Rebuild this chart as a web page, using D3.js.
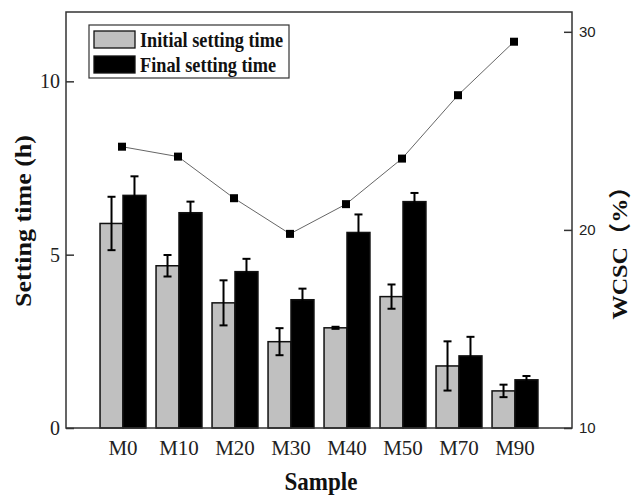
<!DOCTYPE html>
<html>
<head>
<meta charset="utf-8">
<script src="https://cdn.jsdelivr.net/npm/d3@7"></script>
<style>
  body { margin: 0; background: #fff; }
  svg { display: block; }
</style>
</head>
<body>
<div id="chart"></div>
<script>
// data
var samples = ["M0", "M10", "M20", "M30", "M40", "M50", "M70", "M90"];
var initialTime = [5.9, 4.68, 3.61, 2.49, 2.89, 3.79, 1.79, 1.07];
var initialErr = [0.77, 0.31, 0.65, 0.39, 0.03, 0.35, 0.71, 0.18];
var finalTime = [6.71, 6.21, 4.51, 3.70, 5.64, 6.53, 2.08, 1.39];
var finalErr = [0.55, 0.32, 0.37, 0.32, 0.52, 0.25, 0.55, 0.11];
var wcsc = [24.2, 23.7, 21.6, 19.8, 21.3, 23.6, 26.8, 29.5];
var leftTicks = [0, 5, 10];
var rightTicks = [10, 20, 30];
var seriesNames = ["Initial setting time", "Final setting time"];

var serif = "'Times New Roman', 'Liberation Serif', 'Noto Sans CJK SC', serif";
var sans = "Arial, 'Liberation Sans', sans-serif";

var margin = {top: 12, right: 61, bottom: 69, left: 66},
    W = 633, H = 497,
    width = W - margin.left - margin.right,
    height = H - margin.top - margin.bottom;

var svg = d3.select("#chart").append("svg")
    .attr("width", W).attr("height", H);
var g = svg.append("g")
    .attr("transform", "translate(" + margin.left + "," + margin.top + ")");

// scales
var x = d3.scaleBand().domain(samples).range([29, 477])
    .paddingInner(0.18).paddingOuter(0.09);
var xSub = d3.scaleBand().domain([0, 1]).range([0, x.bandwidth()]);
var y = d3.scaleLinear().domain([0, 12]).range([height, 0]);
var y2 = d3.scaleLinear().domain([10, 31]).range([height, 0]);

// bars
var rows = samples.map(function(s, i) {
  return [
    {s: s, k: 0, v: initialTime[i], e: initialErr[i]},
    {s: s, k: 1, v: finalTime[i], e: finalErr[i]}
  ];
});
var fills = ["#c0c0c0", "#000"];

var grp = g.selectAll(".grp").data(rows).enter().append("g")
    .attr("transform", function(d) { return "translate(" + x(d[0].s) + ",0)"; });

grp.selectAll("rect").data(function(d) { return d; }).enter().append("rect")
    .attr("x", function(d) { return xSub(d.k); })
    .attr("y", function(d) { return y(d.v); })
    .attr("width", xSub.bandwidth())
    .attr("height", function(d) { return height - y(d.v); })
    .attr("fill", function(d) { return fills[d.k]; })
    .attr("stroke", "#111").attr("stroke-width", 1.5);

// error bars
var eb = grp.selectAll(".err").data(function(d) { return d; }).enter().append("g")
    .attr("transform", function(d) { return "translate(" + (xSub(d.k) + xSub.bandwidth() / 2) + ",0)"; })
    .attr("stroke", "#000").attr("stroke-width", 2);
eb.append("line")
    .attr("y1", function(d) { return y(d.v - d.e); })
    .attr("y2", function(d) { return y(d.v + d.e); });
eb.append("line").attr("x1", -4).attr("x2", 4)
    .attr("y1", function(d) { return y(d.v + d.e); })
    .attr("y2", function(d) { return y(d.v + d.e); });
eb.append("line").attr("x1", -4).attr("x2", 4)
    .attr("y1", function(d) { return y(d.v - d.e); })
    .attr("y2", function(d) { return y(d.v - d.e); });

// WCSC line
var cx = function(i) { return x(samples[i]) + x.bandwidth() / 2 - 1; };
var line = d3.line()
    .x(function(d, i) { return cx(i); })
    .y(function(d) { return y2(d); });
g.append("path").datum(wcsc)
    .attr("d", line)
    .attr("fill", "none").attr("stroke", "#666").attr("stroke-width", 1);
g.selectAll(".mk").data(wcsc).enter().append("rect")
    .attr("x", function(d, i) { return cx(i) - 4; })
    .attr("y", function(d) { return y2(d) - 4; })
    .attr("width", 8).attr("height", 8)
    .attr("fill", "#000");

// frame
g.append("rect").attr("width", width).attr("height", height)
    .attr("fill", "none").attr("stroke", "#333").attr("stroke-width", 1.5);

// axes
var ax = g.append("g")
    .call(d3.axisLeft(y).tickValues(leftTicks).tickSize(-8).tickPadding(6));
ax.select(".domain").remove();
ax.selectAll("line").attr("stroke", "#333").attr("stroke-width", 1.5);
ax.selectAll("text").attr("font-family", serif).attr("font-size", 20).attr("fill", "#222");

var ax2 = g.append("g").attr("transform", "translate(" + width + ",0)")
    .call(d3.axisRight(y2).tickValues(rightTicks).tickSize(-8).tickPadding(7));
ax2.select(".domain").remove();
ax2.selectAll("line").attr("stroke", "#333").attr("stroke-width", 1.5);
ax2.selectAll("text").attr("font-family", sans).attr("font-size", 15).attr("fill", "#222");

var axb = g.append("g").attr("transform", "translate(0," + height + ")")
    .call(d3.axisBottom(x).tickSize(0));
axb.select(".domain").remove();
axb.selectAll("text").attr("font-family", serif).attr("font-size", 21)
    .attr("fill", "#222").attr("y", 27).attr("dy", 0);

// legend
var lg = svg.append("g").attr("transform", "translate(89,25)");
lg.append("rect").attr("width", 200).attr("height", 53)
    .attr("fill", "#fff").attr("stroke", "#333").attr("stroke-width", 1.2);
var lw = [143, 136];
seriesNames.forEach(function(name, i) {
  lg.append("rect").attr("x", 5).attr("y", 6 + i * 25)
      .attr("width", 41).attr("height", 17)
      .attr("fill", fills[i]).attr("stroke", "#111").attr("stroke-width", 1.3);
  lg.append("text").attr("x", 51).attr("y", 21.5 + i * 25)
      .attr("font-family", serif).attr("font-weight", "bold").attr("font-size", 21)
      .attr("textLength", lw[i]).attr("lengthAdjust", "spacingAndGlyphs")
      .attr("fill", "#111").text(name);
});

// axis titles
svg.append("text")
    .attr("transform", "translate(31,221) rotate(-90)")
    .attr("text-anchor", "middle")
    .attr("font-family", serif).attr("font-weight", "bold").attr("font-size", 24)
    .attr("textLength", 172).attr("lengthAdjust", "spacingAndGlyphs")
    .attr("fill", "#111").text("Setting time (h)");

svg.append("text")
    .attr("transform", "translate(627,247) rotate(-90)")
    .attr("text-anchor", "middle")
    .attr("font-family", serif).attr("font-weight", "bold").attr("font-size", 22)
    .attr("textLength", 145).attr("lengthAdjust", "spacingAndGlyphs")
    .attr("fill", "#111").text("WCSC（%）");

svg.append("text")
    .attr("x", 321).attr("y", 490)
    .attr("text-anchor", "middle")
    .attr("font-family", serif).attr("font-weight", "bold").attr("font-size", 26)
    .attr("textLength", 73).attr("lengthAdjust", "spacingAndGlyphs")
    .attr("fill", "#111").text("Sample");
</script>
</body>
</html>
